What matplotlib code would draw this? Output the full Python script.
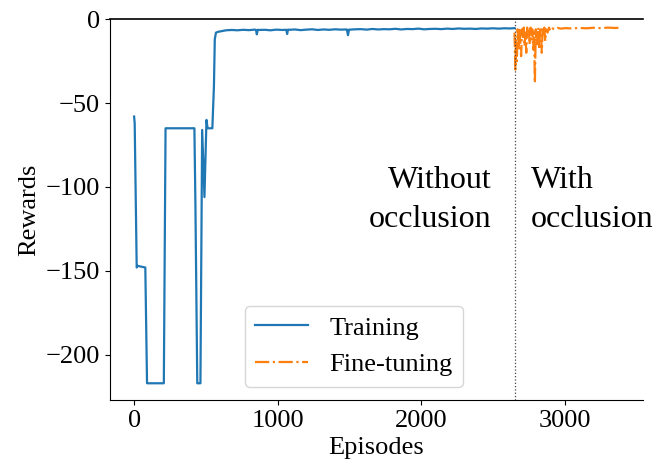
import matplotlib
matplotlib.use("Agg")
import matplotlib.pyplot as plt

plt.rcParams['font.family'] = ['Liberation Serif', 'DejaVu Serif']

# training rewards (episode, reward)
train_episodes = [0, 4, 18, 24, 78, 90, 207, 219, 420, 427, 440, 462, 474, 490, 504, 512,
                  545, 556, 562, 570, 585, 610, 640, 680, 720, 760, 800, 840, 849, 855,
                  861, 870, 910, 950, 990, 1030, 1060, 1066, 1072, 1080, 1120, 1160, 1200,
                  1240, 1280, 1320, 1360, 1400, 1440, 1482, 1490, 1497, 1505, 1540, 1580,
                  1620, 1660, 1700, 1740, 1780, 1820, 1860, 1900, 1940, 1980, 2020, 2060,
                  2100, 2140, 2180, 2220, 2260, 2300, 2340, 2380, 2420, 2460, 2500, 2540,
                  2580, 2620, 2650]
train_rewards = [-58, -62, -148, -147, -148, -217, -217, -65, -65, -110, -217, -217, -66, -106, -60, -65,
                 -65, -40, -12, -8, -7.5, -7.1, -6.6, -6.4, -6.6, -6.3, -6.5, -6.2, -6.4, -9.0,
                 -6.3, -6.4, -6.3, -6.6, -6.2, -6.4, -6.3, -8.8, -6.2, -6.3, -6.1, -6.5, -6.2,
                 -6.0, -6.4, -6.1, -6.3, -6.0, -6.2, -6.1, -9.5, -6.2, -6.2, -6.0, -5.9,
                 -6.2, -5.8, -6.1, -5.9, -6.0, -5.7, -6.1, -5.8, -5.9, -5.6, -6.0, -5.8,
                 -5.7, -5.9, -5.6, -5.8, -5.5, -5.7, -5.6, -5.8, -5.5, -5.6, -5.4, -5.6,
                 -5.4, -5.5, -5.3]

# fine-tuning rewards with occlusion
ft_episodes = [2650, 2656, 2660, 2666, 2672, 2678, 2684, 2690, 2696, 2702, 2708, 2714, 2720,
               2726, 2732, 2738, 2744, 2750, 2756, 2762, 2768, 2774, 2780, 2786, 2792, 2798,
               2804, 2810, 2816, 2822, 2828, 2834, 2840, 2846, 2852, 2858, 2864, 2870, 2880,
               2890, 2900, 2915, 2930, 2950, 2975, 3000, 3050, 3100, 3150, 3200, 3250, 3300,
               3350, 3375]
ft_rewards = [-8, -30, -12, -25, -6, -18, -5, -14, -22, -6, -12, -5, -16,
              -8, -20, -5, -10, -7, -15, -5, -12, -6, -18, -8, -38, -6,
              -16, -12, -5, -18, -7, -6, -20, -6, -9, -5, -13, -6, -8,
              -5, -7, -5.5, -6, -5.2, -5.6, -5.3, -5.5, -5.2, -5.4, -5.1, -5.3, -5.0,
              -5.2, -5.1]

switch_episode = 2650

fig = plt.figure(figsize=(6.62, 4.69), dpi=100)
ax = fig.add_axes([0.166, 0.147, 0.805, 0.812])

ax.plot(train_episodes, train_rewards, color='#1f77b4', lw=1.6, label='Training')
ax.plot(ft_episodes, ft_rewards, color='#ff7f0e', lw=1.6, ls='-.', label='Fine-tuning')
ax.axvline(switch_episode, color='#444444', lw=0.9, ls=':')

ax.set_ylim(-227, 0)
ax.spines['right'].set_visible(False)
ax.spines['top'].set_color('black')
ax.spines['top'].set_linewidth(1.2)

ax.text(2490, -108, 'Without\nocclusion', ha='right', va='center', fontsize=23, linespacing=1.45)
ax.text(2765, -108, 'With\nocclusion', ha='left', va='center', fontsize=23, linespacing=1.45)

ax.set_xlabel('Episodes', fontsize=19, labelpad=3)
ax.set_ylabel('Rewards', fontsize=19)
ax.tick_params(labelsize=19)
ax.tick_params(axis='x', pad=4)
ax.legend(loc='lower center', bbox_to_anchor=(0.458, 0.0), fontsize=19)

fig.savefig('out.png', dpi=100)
